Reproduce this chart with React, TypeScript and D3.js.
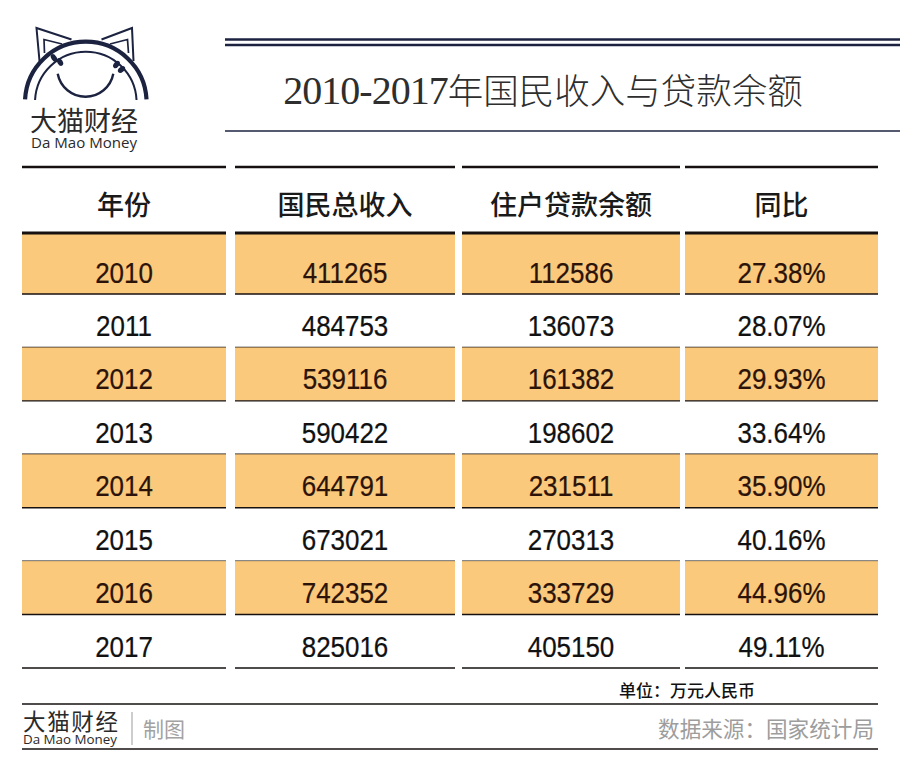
import React from "react";
import * as d3 from "d3";

const W = 900;
const H = 773;

const headers = ["年份", "国民总收入", "住户贷款余额", "同比"];
const years = ["2010", "2011", "2012", "2013", "2014", "2015", "2016", "2017"];
const gni = [411265, 484753, 539116, 590422, 644791, 673021, 742352, 825016];
const loans = [112586, 136073, 161382, 198602, 231511, 270313, 333729, 405150];
const yoy = [27.38, 28.07, 29.93, 33.64, 35.9, 40.16, 44.96, 49.11];

const titleNum = "2010-2017";
const titleCjk = "年国民收入与贷款余额";
const unitText = "单位：万元人民币";
const sourceText = "数据来源：国家统计局";
const brandCn = "大猫财经";
const brandEn = "Da Mao Money";
const madeText = "制图";

const ORANGE = "#fbc97b";
const NAVY = "#1c2340";
const LINE = "#161010";

const cols: [number, number][] = [
  [22, 226],
  [235, 455],
  [462, 680],
  [685, 878],
];

const rowBottom = d3.scaleLinear().domain([0, years.length - 1]).range([294, 668]);
const headerLineY = 233;
const rowTop = (i: number) => (i === 0 ? headerLineY : rowBottom(i - 1));

const fmtInt = d3.format("d");
const fmtPct = (v: number) => d3.format(".2f")(v) + "%";

function Logo() {
  const cx = 85.8;
  const cy = 102.5;
  const arcPath = (r: number, a0: number, a1: number) => {
    const p = d3.path();
    p.arc(cx, cy, r, a0, a1);
    return p.toString();
  };
  const startA = Math.PI + 0.05;
  const endA = 2 * Math.PI - 0.05;
  const mouth = d3.path();
  mouth.arc(85.5, 68.4, 28.3, Math.PI * 0.06, Math.PI * 0.94);
  const beads = [
    { x: 54, y: 58 },
    { x: 60, y: 62 },
    { x: 116.5, y: 64.5 },
    { x: 121.5, y: 69.5 },
  ];
  return (
    <g>
      <polyline points="39.5,61 36.5,28 71.5,39.5" fill="none" stroke={NAVY} strokeWidth={2} strokeLinejoin="miter" />
      <polyline points="44.5,53 44,39.5 62,44" fill="none" stroke={NAVY} strokeWidth={1.7} />
      <polyline points="133.5,61 132,28 101.5,39.5" fill="none" stroke={NAVY} strokeWidth={2} strokeLinejoin="miter" />
      <polyline points="128.5,53 127.5,39.5 110,44" fill="none" stroke={NAVY} strokeWidth={1.7} />
      <path d={arcPath(60.8, startA, endA)} fill="none" stroke={NAVY} strokeWidth={4.2} />
      <path d={arcPath(50.8, startA, endA)} fill="none" stroke={NAVY} strokeWidth={2} />
      <path d={mouth.toString()} fill="none" stroke={NAVY} strokeWidth={2.4} />
      {beads.map((b, i) => {
        const ang = (Math.atan2(b.y - cy, b.x - cx) * 180) / Math.PI;
        return (
          <ellipse
            key={i}
            cx={0}
            cy={0}
            rx={4.2}
            ry={2.6}
            fill={NAVY}
            transform={`translate(${b.x},${b.y}) rotate(${ang})`}
          />
        );
      })}
      <text x={30} y={119} fontSize={27} fontFamily="Noto Sans CJK SC" fill="#2a2a2a" dominantBaseline="central" textLength={108} lengthAdjust="spacing">
        {brandCn}
      </text>
      <text x={31} y={141.5} fontSize={15} fontFamily="Open Sans, Noto Sans" fill="#2a2a2a" dominantBaseline="central" textLength={106} lengthAdjust="spacingAndGlyphs">
        {brandEn}
      </text>
    </g>
  );
}

function NumText({ x, y, s, color }: { x: number; y: number; s: string; color: string }) {
  return (
    <text
      transform={`translate(${x},${y}) scale(0.88,1)`}
      textAnchor="middle"
      dominantBaseline="central"
      fontSize={29.5}
      fontFamily="Liberation Sans, Arial, sans-serif"
      fill={color}
      stroke={color}
      strokeWidth={0.25}
    >
      {s}
    </text>
  );
}

export default function App() {
  const rows = years.map((y, i) => [y, fmtInt(gni[i]), fmtInt(loans[i]), fmtPct(yoy[i])]);
  return (
    <svg width={W} height={H} style={{ position: "absolute", left: 0, top: 0, display: "block", background: "#fff" }}>
      <rect x={0} y={0} width={W} height={H} fill="#fff" />
      <Logo />
      <line x1={225} x2={W} y1={39.5} y2={39.5} stroke={NAVY} strokeWidth={2.4} />
      <line x1={225} x2={W} y1={45} y2={45} stroke={NAVY} strokeWidth={2.4} />
      <text x={543} y={104} textAnchor="middle" fill="#2e2e2e">
        <tspan fontFamily="Liberation Serif, DejaVu Serif, serif" fontSize={40} letterSpacing={-1}>
          {titleNum}
        </tspan>
        <tspan fontFamily="Noto Sans CJK SC" fontWeight={300} fontSize={35.5}>
          {titleCjk}
        </tspan>
      </text>
      <line x1={225} x2={W} y1={131} y2={131} stroke={NAVY} strokeWidth={1.4} />

      {cols.map(([a, b], j) => (
        <g key={"h" + j}>
          <line x1={a} x2={b} y1={167} y2={167} stroke={LINE} strokeWidth={2.6} />
          <text
            x={(a + b) / 2}
            y={203}
            textAnchor="middle"
            dominantBaseline="central"
            fontSize={27}
            fontWeight={500}
            fontFamily="Noto Sans CJK SC"
            fill="#1a1a1a"
          >
            {headers[j]}
          </text>
        </g>
      ))}

      {rows.map((r, i) => {
        const top = rowTop(i);
        const bot = rowBottom(i);
        const shaded = i % 2 === 0;
        return (
          <g key={"r" + i}>
            {cols.map(([a, b], j) => (
              <g key={j}>
                {shaded && <rect x={a} y={top} width={b - a} height={bot - top} fill={ORANGE} />}
                <NumText x={(a + b) / 2} y={bot - 21.5} s={r[j]} color={shaded ? "#2b1309" : "#111"} />
                <line x1={a} x2={b} y1={bot} y2={bot} stroke={LINE} strokeWidth={1.4} />
              </g>
            ))}
          </g>
        );
      })}
      {cols.map(([a, b], j) => (
        <line key={"hl" + j} x1={a} x2={b} y1={headerLineY} y2={headerLineY} stroke={LINE} strokeWidth={2.8} />
      ))}

      <text x={687} y={689} textAnchor="middle" dominantBaseline="central" fontSize={17} fontWeight={500} fontFamily="Noto Sans CJK SC" fill="#111">
        {unitText}
      </text>

      <line x1={22} x2={878} y1={704} y2={704} stroke={LINE} strokeWidth={1.3} />
      <line x1={22} x2={878} y1={749} y2={749} stroke={LINE} strokeWidth={1.3} />
      <text x={23} y={719.5} fontSize={22.5} fontFamily="Noto Sans CJK SC" fill="#2a2a2a" dominantBaseline="central" textLength={95} lengthAdjust="spacing">
        {brandCn}
      </text>
      <text x={23} y={739.5} fontSize={12.5} fontFamily="Open Sans, Noto Sans" fill="#2a2a2a" dominantBaseline="central" textLength={94} lengthAdjust="spacingAndGlyphs">
        {brandEn}
      </text>
      <line x1={132} x2={132} y1={712} y2={745} stroke="#b8b8b8" strokeWidth={1.4} />
      <text x={143} y={728} fontSize={21} fontFamily="Noto Sans CJK SC" fill="#a2a2a2" dominantBaseline="central">
        {madeText}
      </text>
      <text x={874} y={727} textAnchor="end" fontSize={21.6} fontFamily="Noto Sans CJK SC" fill="#9d9d9d" dominantBaseline="central">
        {sourceText}
      </text>
    </svg>
  );
}
